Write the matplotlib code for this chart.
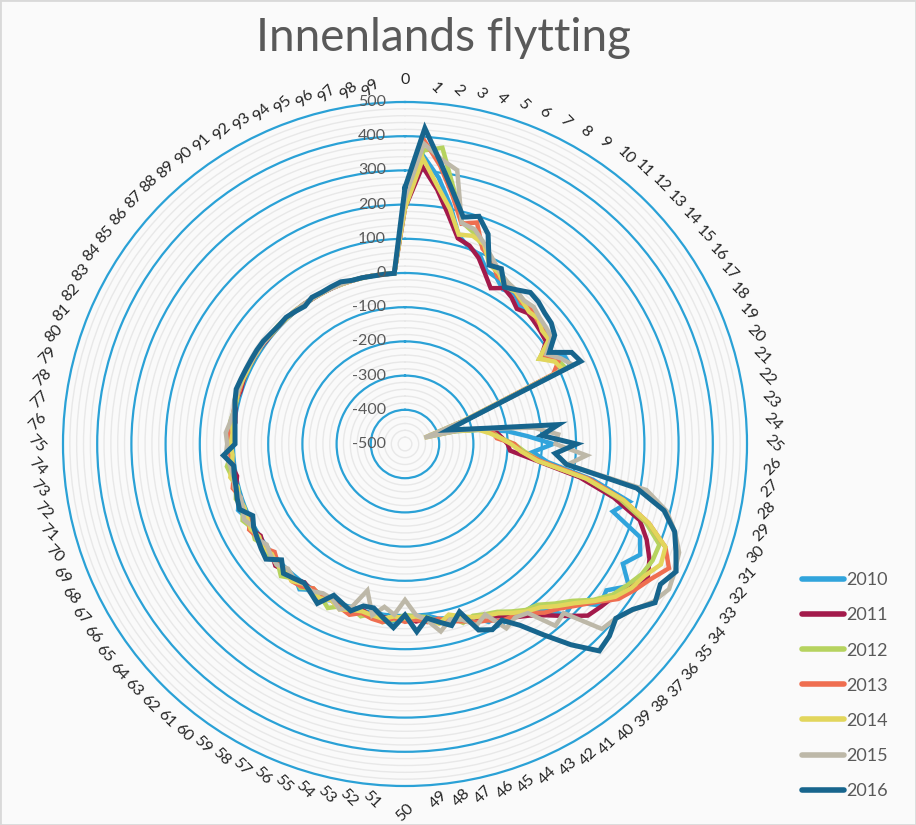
import numpy as np
import matplotlib
matplotlib.use("Agg")
import matplotlib.pyplot as plt
from matplotlib.ticker import MultipleLocator
from matplotlib.lines import Line2D

plt.rcParams['font.family'] = ['Lato', 'DejaVu Sans']

categories = [str(i) for i in range(100)]
years = ['2010', '2011', '2012', '2013', '2014', '2015', '2016']

y2010 = [200, 345, 285, 210, 130, 104, 95, 60, 55, 35,
         45, 25, 35, 20, 25, 10, -20, 33, 35, -300,
         -420, -350, -280, -200, -140, -67, -126, -80, 60, 178,
         139, 239, 260, 227, 275, 228, 240, 175, 185, 130,
         110, 95, 70, 75, 45, 40, 25, 20, 5, 15,
         10, 20, 5, 0, 10, 0, 15, 5, 20, 5,
         25, 5, 15, 5, 20, 10, 15, 5, 10, 25,
         10, 15, 5, 20, 15, 10, 5, 10, 5, 10,
         10, 12, 8, 10, 10, 8, 6, 5, 6, 4,
         4, 5, 4, 4, 3, 3, 2, 1, 0, 0]
y2011 = [190, 313, 250, 180, 121, 110, 85, 50, 20, 40,
         30, 13, 25, 20, 15, 10, -30, 5, 15, -300,
         -410, -340, -270, -230, -215, -200, -192, -113, 20, 130,
         222, 260, 290, 310, 280, 257, 245, 233, 190, 150,
         120, 100, 75, 50, 60, 40, 25, 30, 15, 20,
         5, 15, 10, 15, 0, 20, 5, 0, 15, 10,
         0, 15, 10, 20, 5, 10, 0, 15, 5, 10,
         15, 10, 0, 10, 15, 5, 10, 0, 5, 10,
         5, 8, 10, 8, 10, 6, 5, 6, 5, 4,
         5, 3, 4, 3, 3, 2, 2, 1, 0, 0]
y2012 = [210, 360, 373, 260, 170, 150, 120, 90, 70, 60,
         50, 45, 40, 35, 30, 25, -35, 10, 20, -300,
         -430, -345, -275, -240, -220, -180, -150, -102, 40, 150,
         240, 300, 300, 290, 270, 250, 215, 170, 140, 110,
         100, 80, 60, 50, 40, 50, 20, 30, 10, 5,
         0, 15, 25, 5, 20, 5, 10, 30, 10, 0,
         20, 10, 30, 10, 15, 5, 20, 10, 25, 10,
         20, 10, 15, 25, 10, 15, 10, 15, 10, 8,
         10, 12, 10, 8, 12, 8, 6, 8, 5, 6,
         5, 4, 5, 4, 3, 3, 2, 1, 1, 0]
y2013 = [200, 390, 320, 240, 165, 181, 115, 95, 60, 55,
         50, 35, 40, 30, 25, 20, -15, 15, -21, -310,
         -420, -330, -260, -240, -231, -180, -160, -100, 50, 160,
         250, 319, 353, 320, 296, 271, 225, 190, 160, 140,
         110, 95, 90, 70, 60, 45, 35, 20, 25, 15,
         20, 10, 25, 20, 10, 25, 15, 5, 10, 0,
         15, 20, 5, 10, -5, 15, 10, 20, 0, 15,
         5, 20, 10, 5, 15, 10, 15, 5, 10, 12,
         8, 10, 12, 10, 8, 10, 6, 5, 6, 5,
         4, 5, 3, 4, 3, 2, 2, 1, 0, 0]
y2014 = [190, 337, 260, 200, 132, 140, 128, 80, 70, 45,
         50, 40, 30, 35, 20, 20, -35, 0, 10, -320,
         -440, -350, -280, -250, -220, -190, -160, -110, 40, 160,
         250, 319, 327, 300, 285, 260, 220, 180, 150, 120,
         105, 85, 65, 55, 45, 30, 15, 35, 15, 5,
         10, 5, 15, 10, 5, 10, 20, 5, 15, 10,
         5, 20, 10, 15, 5, 15, 5, 15, 10, 5,
         10, 5, 20, 10, 5, 10, 5, 10, 8, 10,
         12, 10, 8, 10, 8, 10, 5, 6, 4, 5,
         3, 4, 3, 4, 2, 2, 1, 1, 0, 0]
y2015 = [220, 380, 340, 315, 167, 160, 130, 100, 75, 60,
         55, 45, 50, 40, 35, 30, -10, 20, 43, -310,
         -440, -340, -260, -120, -51, -60, 32, -21, 219, 290,
         330, 362, 372, 381, 360, 325, 300, 290, 178, 190,
         111, 101, 115, 51, 70, 40, 30, 58, 20, 0,
         -44, 0, -20, 10, -58, 0, 20, 0, -2, 10,
         5, 10, 0, 15, 10, 0, 15, 5, 20, 10,
         5, 15, 10, 15, 25, 20, 25, 15, 10, 15,
         12, 15, 12, 10, 10, 8, 8, 6, 6, 5,
         5, 4, 4, 3, 3, 2, 2, 1, 0, 0]
y2016 = [250, 425, 330, 250, 185, 200, 160, 78, 85, 43,
         57, 75, 70, 60, 55, 41, 0, 56, 68, -294,
         -367, -328, -253, -48, -100, 2, -60, -24, 190, 282,
         329, 352, 376, 352, 366, 323, 300, 320, 330, 262,
         190, 128, 88, 100, 85, 16, 48, 30, 13, 50,
         0, 38, 12, -12, -11, 13, 0, -11, 32, 15,
         2, 10, 19, -5, 28, 20, 12, 5, -8, 20,
         16, 10, 8, 5, 32, -3, -2, 1, 6, 13,
         19, 16, 14, 13, 13, 12, 8, 6, 8, 3,
         -2, 8, 6, 8, 10, 3, 2, 0, 0, 0]

series = [y2010, y2011, y2012, y2013, y2014, y2015, y2016]
colors = ['#31A4DC', '#A31A4B', '#B6D35F', '#EF6E50', '#E2D65C', '#BDB8A8', '#17658D']

r_ticks = list(range(-500, 501, 100))

W, H = 916, 825
fig = plt.figure(figsize=(W / 100, H / 100), dpi=100, facecolor='#FAFAFA')

cx, cy, rad = 405, 444, 342
ax = fig.add_axes([(cx - rad) / W, 1 - (cy + rad) / H, 2 * rad / W, 2 * rad / H],
                  projection='polar')
ax.set_facecolor('#FAFAFA')
ax.set_theta_zero_location('N')
ax.set_theta_direction(-1)
ax.set_ylim(-500, 500)
ax.set_xticks([])
ax.set_yticks(r_ticks)
ax.set_yticklabels([])
ax.yaxis.set_minor_locator(MultipleLocator(20))
ax.tick_params(axis='y', which='both', length=0)
ax.grid(False, axis='x')
ax.grid(True, axis='y', which='major', color='#2AA1D6', lw=1.6)
ax.grid(True, axis='y', which='minor', color='#E8E8E8', lw=1.0)
for gl in ax.yaxis.get_gridlines():
    gl.set_clip_on(False)
ax.spines['polar'].set_visible(False)
ax.set_axisbelow(True)

n = len(categories)
theta = np.deg2rad(np.arange(n) * 360.0 / n)
th_closed = np.append(theta, theta[0])

for yr, vals, col in zip(years, series, colors):
    v = np.append(np.array(vals, dtype=float), vals[0])
    lw = 3.6 if yr == '2016' else 3.2
    ax.plot(th_closed, v, color=col, lw=lw, solid_joinstyle='miter', label=yr, zorder=3)

for v in r_ticks:
    ax.annotate(str(v), xy=(0, v), xytext=(-19, 0), textcoords='offset pixels',
                ha='right', va='center', fontsize=11.5, color='#595959', zorder=5)

for i, lab in enumerate(categories):
    deg = i * 360.0 / n
    s = np.sin(theta[i])
    if deg == 0:
        rot, ha, va = 0, 'center', 'bottom'
    elif deg == 180:
        rot, ha, va = 45, 'center', 'top'
    else:
        ha = 'left' if s > 0 else 'right'
        va = 'center'
        rot = -45 if (0 < deg <= 90 or 180 < deg <= 270) else 45
    ax.text(theta[i], 543, lab, rotation=rot, ha=ha, va=va,
            fontsize=11.5, color='#262626', clip_on=False)

fig.text(443 / W, 1 - 38 / H, 'Innenlands flytting', ha='center', va='center',
         fontsize=33, color='#595959')

handles = [Line2D([0], [0], color=c, lw=4, solid_capstyle='round') for c in colors]
leg = fig.legend(handles, years, loc='upper left', bbox_to_anchor=(786 / W, 1 - 556 / H),
                 frameon=False, handlelength=2.3, handletextpad=0.15, labelspacing=1.06,
                 fontsize=13)
for t in leg.get_texts():
    t.set_color('#595959')

fig.patches.append(plt.Rectangle((0, 0), 1, 1, transform=fig.transFigure, fill=False,
                                 edgecolor='#D9D9D9', lw=2))

fig.savefig('out.png', dpi=100, facecolor=fig.get_facecolor())
